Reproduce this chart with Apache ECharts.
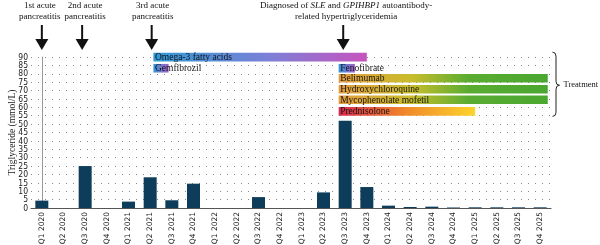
<!DOCTYPE html>
<html>
<head>
<meta charset="utf-8">
<script src="https://cdn.jsdelivr.net/npm/echarts@6/dist/echarts.min.js"></script>
<style>html,body{margin:0;padding:0;background:#fff;}#c{width:600px;height:245px;}</style>
</head>
<body>
<div id="c"></div>
<script>
const categories = ['Q1 2020','Q2 2020','Q3 2020','Q4 2020','Q1 2021','Q2 2021','Q3 2021','Q4 2021',
  'Q1 2022','Q2 2022','Q3 2022','Q4 2022','Q1 2023','Q2 2023','Q3 2023','Q4 2023',
  'Q1 2024','Q2 2024','Q3 2024','Q4 2024','Q1 2025','Q2 2025','Q3 2025','Q4 2025'];
const triglyceride = [4.4, 0, 25, 0, 3.8, 18.3, 4.6, 14.5, 0, 0, 6.5, 0, 0, 9.3, 52, 12.5,
  1.4, 0.6, 0.8, 0.3, 0.4, 0.4, 0.4, 0.4];
const yTickLabels = [0, 5, 10, 15, 20, 25, 30, 35, 40, 45, 50, 55, 60, 65, 70, 75, 80, 85, 90];
const yTicks = {min: 0, max: 90, step: 5};

// treatments: names, start/end positions (category index units), lane level (mmol/L scale)
const treatmentNames = ['Omega-3 fatty acids','Gemfibrozil','Fenofibrate','Belimumab',
  'Hydroxychloroquine','Mycophenolate mofetil','Prednisolone'];
const treatmentStart = [5.15, 5.15, 13.7, 13.7, 13.7, 13.7, 13.7];
const treatmentEnd   = [15.0, 5.85, 14.45, 23.35, 23.35, 23.35, 20.0];
const treatmentLevel = [89.9, 83.3, 83.3, 77.3, 70.8, 64.5, 57.6];
const groupLabel = 'Treatment';

// events (arrows) at category index positions
const eventLabels = ['1st acute\npancreatitis','2nd acute\npancreatitis','3rd acute\npancreatitis',
  'Diagnosed of {i|SLE} and {i|GPIHBP1} autoantibody-\nrelated hypertriglyceridemia'];
const eventPos = [0, 1.86, 5.07, 13.91];
const eventLabelDx = [-2, 3, 1, 3];

const blueViolet = [[0,'#3496d8'],[1,'#a55ecb']];
const omegaStops = [[0,'#2e9ad8'],[0.55,'#7d7fd6'],[1,'#c753be']];
const greenStops = [[0,'#e49c3e'],[0.35,'#c8bd2c'],[0.62,'#5aac31'],[1,'#4aa730']];
const predStops = [[0,'#d8294e'],[0.5,'#f08a2b'],[1,'#fcd42c']];
const treatmentStops = [omegaStops, blueViolet, blueViolet, greenStops, greenStops, greenStops, predStops];

const serif = 'Liberation Serif';
const chart = echarts.init(document.getElementById('c'), null, {renderer: 'canvas'});

const option = {
  animation: false,
  grid: {left: 31, right: 49, top: 57, bottom: 37, containLabel: false, outerBoundsMode: 'none'},
  xAxis: [{
    type: 'category', data: categories, boundaryGap: true,
    axisLine: {lineStyle: {color: '#555', width: 1.2}},
    axisTick: {show: false},
    axisLabel: {rotate: 90, interval: 0, fontFamily: 'DejaVu Sans', fontSize: 7.5, color: '#222', margin: 4},
    splitLine: {show: false}
  }, {
    type: 'value', min: -0.5, max: 23.5, show: false
  }],
  yAxis: {
    type: 'value', min: yTicks.min, max: yTicks.max, interval: yTicks.step,
    name: 'Triglyceride (mmol/L)', nameLocation: 'middle', nameGap: 14, nameMoveOverlap: false,
    nameTextStyle: {fontFamily: serif, fontSize: 9.5, color: '#222'},
    axisLine: {show: true, lineStyle: {color: '#999', width: 1}},
    axisTick: {show: false},
    axisLabel: {show: false},
    splitLine: {show: true, lineStyle: {color: '#888', type: [1, 6], width: 1}}
  },
  series: [{
    type: 'bar', data: triglyceride, barWidth: 13, xAxisIndex: 0,
    itemStyle: {color: '#0e3d5b'}
  }, {
    // y-axis tick labels placed through the y scale
    type: 'custom', xAxisIndex: 1, yAxisIndex: 0, clip: false, z: 4, silent: true,
    data: yTickLabels.map(v => [-0.5, v]),
    encode: {x: 0, y: 1},
    renderItem: function (params, api) {
      const p = api.coord([api.value(0), api.value(1)]);
      return {type: 'text', x: p[0] - 3, y: p[1] + 0.5,
        style: {text: String(yTickLabels[params.dataIndex]), fontFamily: 'DejaVu Sans Condensed', fontSize: 8.5,
          fill: '#222', align: 'right', verticalAlign: 'middle'}};
    }
  }, {
    type: 'custom', xAxisIndex: 1, yAxisIndex: 0, clip: false, z: 5,
    data: treatmentNames.map((n, i) => [treatmentStart[i], treatmentEnd[i], treatmentLevel[i]]),
    encode: {x: [0, 1], y: 2},
    renderItem: function (params, api) {
      const i = params.dataIndex;
      const s = api.coord([api.value(0), api.value(2)]);
      const e = api.coord([api.value(1), api.value(2)]);
      const h = 8.6;
      const stops = treatmentStops[i].map(st => ({offset: st[0], color: st[1]}));
      return {type: 'group', children: [
        {type: 'rect', shape: {x: s[0], y: s[1] - h / 2, width: e[0] - s[0], height: h},
         style: {fill: new echarts.graphic.LinearGradient(0, 0, 1, 0, stops)}},
        {type: 'text', x: s[0] + 1.5, y: s[1] + 0.5,
         style: {text: treatmentNames[i], fontFamily: serif, fontSize: 9.5, fill: '#151515', verticalAlign: 'middle', align: 'left'}}
      ]};
    }
  }, {
    type: 'custom', xAxisIndex: 1, yAxisIndex: 0, clip: false, z: 6,
    data: eventPos.map(p => [p, yTicks.max]),
    encode: {x: 0, y: 1},
    renderItem: function (params, api) {
      const i = params.dataIndex;
      const p = api.coord([api.value(0), api.value(1)]);
      const x = p[0], y0 = p[1];
      return {type: 'group', children: [
        {type: 'line', shape: {x1: x, y1: y0 - 32, x2: x, y2: y0 - 17}, style: {stroke: '#111', lineWidth: 2}},
        {type: 'polygon', shape: {points: [[x - 6.5, y0 - 18], [x + 6.5, y0 - 18], [x, y0 - 7]]}, style: {fill: '#111'}},
        {type: 'text', x: x + eventLabelDx[i], y: y0 - 35,
         style: {text: eventLabels[i], fontFamily: serif, fontSize: 9, fill: '#111', align: 'center', verticalAlign: 'bottom', lineHeight: 11,
           rich: {i: {fontStyle: 'italic', fontFamily: serif, fontSize: 9, lineHeight: 11}}}}
      ]};
    }
  }, {
    // bracket grouping the treatments
    type: 'custom', xAxisIndex: 1, yAxisIndex: 0, clip: false, z: 6,
    data: [[23.5, Math.max(...treatmentLevel), Math.min(...treatmentLevel)]],
    encode: {x: 0, y: [1, 2]},
    renderItem: function (params, api) {
      const t = api.coord([api.value(0), api.value(1)]);
      const b = api.coord([api.value(0), api.value(2)]);
      const x0 = t[0] + 1.5, topY = t[1] - 5, botY = b[1] + 5;
      const mid = (topY + botY) / 2 + 1;
      const path = `M${x0},${topY} Q${x0 + 3.5},${topY} ${x0 + 3.5},${topY + 4} L${x0 + 3.5},${mid - 4} Q${x0 + 3.5},${mid} ${x0 + 7},${mid} Q${x0 + 3.5},${mid} ${x0 + 3.5},${mid + 4} L${x0 + 3.5},${botY - 4} Q${x0 + 3.5},${botY} ${x0},${botY}`;
      return {type: 'group', children: [
        {type: 'path', shape: {pathData: path}, style: {fill: 'none', stroke: '#222', lineWidth: 1}},
        {type: 'text', x: x0 + 11, y: mid, style: {text: groupLabel, fontFamily: serif, fontSize: 8.5, fill: '#111', verticalAlign: 'middle'}}
      ]};
    }
  }]
};
chart.setOption(option);
</script>
</body>
</html>
